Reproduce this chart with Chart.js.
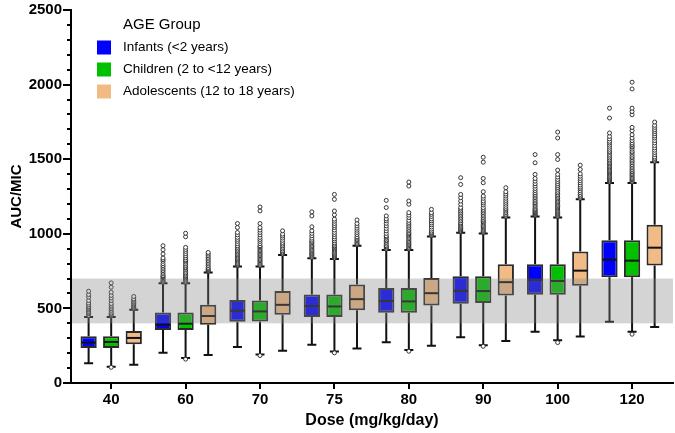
<!DOCTYPE html>
<html>
<head>
<meta charset="utf-8">
<script src="https://cdn.jsdelivr.net/npm/chart.js@4.4.1/dist/chart.umd.min.js"></script>
<style>
  body { margin: 0; background: #fff; }
  #wrap { width: 675px; height: 433px; }
</style>
</head>
<body>
<div id="wrap"><canvas id="chart"></canvas></div>
<script>
"use strict";

const doses = ["40", "60", "70", "75", "80", "90", "100", "120"];
const groupNames = ["Infants (<2 years)", "Children (2 to <12 years)", "Adolescents (12 to 18 years)"];
const groupColors = ["#0000ff", "#00c000", "#f2bb85"];
const yTicks = [0, 500, 1000, 1500, 2000, 2500];
const targetBand = [400, 700];

// box stats per dose
const infantsLow = [133, 202, 242, 256, 273, 307, 344, 411];
const infantsQ1 = [235, 356, 411, 442, 471, 531, 591, 709];
const infantsMedian = [271, 391, 484, 516, 549, 618, 691, 827];
const infantsQ3 = [313, 473, 556, 593, 636, 716, 796, 956];
const infantsHigh = [442, 669, 780, 836, 891, 1007, 1116, 1340];

const childrenLow = [109, 167, 191, 211, 222, 253, 287, 344];
const childrenQ1 = [235, 356, 413, 442, 471, 536, 591, 709];
const childrenMedian = [275, 398, 480, 513, 547, 616, 684, 820];
const childrenQ3 = [313, 473, 553, 593, 636, 716, 796, 956];
const childrenHigh = [442, 669, 780, 831, 891, 1002, 1109, 1340];

const adolescentsLow = [122, 187, 216, 231, 249, 282, 311, 376];
const adolescentsQ1 = [260, 391, 458, 487, 520, 587, 651, 787];
const adolescentsMedian = [302, 449, 524, 562, 602, 676, 753, 907];
const adolescentsQ3 = [349, 524, 616, 660, 704, 796, 882, 1060];
const adolescentsHigh = [491, 740, 858, 920, 982, 1109, 1231, 1480];

const infantsOutliers = [
  [453, 464, 472, 480, 490, 498, 507, 513, 524, 536, 553, 576, 593, 615],
  [676, 683, 690, 698, 706, 713, 720, 731, 742, 753, 764, 776, 787, 800, 816, 827, 838, 865, 893, 920],
  [786, 793, 800, 809, 817, 826, 834, 842, 851, 860, 869, 878, 888, 898, 909, 920, 934, 949, 962, 976, 993, 1009, 1042, 1069],
  [843, 850, 857, 864, 871, 878, 887, 896, 904, 913, 922, 931, 940, 949, 958, 971, 987, 1003, 1020, 1047, 1120, 1147],
  [898, 905, 913, 920, 931, 942, 952, 958, 970, 979, 987, 1003, 1020, 1036, 1053, 1070, 1087, 1100, 1120, 1176, 1224],
  [1013, 1020, 1027, 1034, 1042, 1050, 1058, 1066, 1075, 1087, 1098, 1109, 1120, 1131, 1142, 1153, 1165, 1176, 1198, 1220, 1242, 1264, 1331, 1376],
  [1122, 1129, 1136, 1142, 1149, 1156, 1163, 1170, 1180, 1190, 1200, 1209, 1220, 1231, 1242, 1253, 1264, 1276, 1290, 1304, 1320, 1336, 1353, 1371, 1398, 1476, 1531],
  [1347, 1354, 1361, 1368, 1376, 1384, 1392, 1400, 1408, 1416, 1424, 1432, 1441, 1450, 1459, 1468, 1477, 1487, 1497, 1508, 1520, 1532, 1545, 1553, 1566, 1580, 1594, 1608, 1620, 1636, 1653, 1676, 1776, 1842],
];
const childrenOutliers = [
  [105, 450, 458, 466, 475, 487, 498, 509, 521, 533, 553, 570, 587, 609, 642, 671],
  [160, 675, 682, 689, 697, 705, 713, 720, 729, 738, 749, 760, 770, 776, 787, 798, 810, 820, 827, 840, 853, 867, 882, 895, 909, 980, 1004],
  [184, 787, 795, 803, 811, 820, 828, 836, 845, 853, 862, 870, 878, 887, 896, 905, 913, 920, 934, 949, 962, 976, 993, 1009, 1025, 1042, 1069, 1153, 1180],
  [202, 838, 845, 852, 860, 867, 875, 883, 891, 899, 907, 915, 920, 930, 940, 953, 966, 980, 995, 1009, 1025, 1042, 1055, 1069, 1084, 1098, 1127, 1153, 1231, 1264],
  [213, 898, 904, 911, 920, 928, 936, 944, 949, 958, 967, 976, 985, 993, 1000, 1009, 1020, 1030, 1042, 1053, 1065, 1076, 1090, 1109, 1125, 1142, 1198, 1220, 1320, 1347],
  [246, 1009, 1016, 1023, 1031, 1039, 1047, 1056, 1064, 1073, 1081, 1090, 1098, 1109, 1120, 1131, 1142, 1153, 1164, 1176, 1193, 1207, 1220, 1238, 1253, 1282, 1342, 1371, 1480, 1513],
  [271, 1116, 1123, 1130, 1137, 1144, 1151, 1158, 1166, 1174, 1182, 1190, 1198, 1207, 1216, 1225, 1234, 1243, 1253, 1263, 1274, 1285, 1298, 1310, 1323, 1336, 1350, 1364, 1380, 1398, 1427, 1498, 1531, 1642, 1682],
  [327, 1347, 1354, 1362, 1370, 1378, 1387, 1396, 1405, 1414, 1420, 1431, 1442, 1453, 1464, 1476, 1487, 1498, 1510, 1520, 1533, 1545, 1553, 1567, 1580, 1587, 1598, 1609, 1625, 1642, 1664, 1691, 1713, 1798, 1820, 1842, 1971, 2016],
];
const adolescentsOutliers = [
  [497, 503, 509, 516, 524, 531, 540, 547, 556, 564, 580],
  [747, 753, 760, 767, 775, 787, 798, 809, 820, 831, 842, 853, 864, 875],
  [864, 871, 878, 887, 898, 909, 920, 931, 942, 956, 971, 985, 998, 1020],
  [927, 935, 944, 953, 962, 971, 980, 995, 1009, 1024, 1038, 1053, 1069, 1093],
  [989, 996, 1002, 1009, 1018, 1031, 1045, 1060, 1073, 1087, 1100, 1116, 1130, 1142, 1164],
  [1116, 1124, 1131, 1142, 1153, 1164, 1171, 1184, 1198, 1211, 1224, 1238, 1253, 1267, 1282, 1309],
  [1238, 1246, 1253, 1264, 1276, 1289, 1302, 1313, 1327, 1342, 1356, 1371, 1386, 1402, 1431, 1460],
  [1487, 1495, 1505, 1515, 1531, 1545, 1560, 1576, 1592, 1609, 1625, 1642, 1656, 1671, 1685, 1698, 1713, 1727, 1749],
];

const groupStats = [
  { low: infantsLow, q1: infantsQ1, median: infantsMedian, q3: infantsQ3, high: infantsHigh, outliers: infantsOutliers },
  { low: childrenLow, q1: childrenQ1, median: childrenMedian, q3: childrenQ3, high: childrenHigh, outliers: childrenOutliers },
  { low: adolescentsLow, q1: adolescentsQ1, median: adolescentsMedian, q3: adolescentsQ3, high: adolescentsHigh, outliers: adolescentsOutliers },
];

const FONT = "'Liberation Sans', Arial, sans-serif";

// whiskers, medians, outliers, the shaded band, minor ticks and the legend
const boxPlugin = {
  id: "boxPlot",
  beforeDatasetsDraw(chart) {
    const ctx = chart.ctx;
    const y = chart.scales.y;
    ctx.save();
    ctx.strokeStyle = "#111";
    ctx.lineWidth = 2;
    groupStats.forEach((g, d) => {
      chart.getDatasetMeta(d).data.forEach((bar, i) => {
        const x = bar.x;
        const yLow = y.getPixelForValue(g.low[i]);
        const yHigh = y.getPixelForValue(g.high[i]);
        ctx.beginPath();
        ctx.moveTo(x, y.getPixelForValue(g.q3[i]));
        ctx.lineTo(x, yHigh);
        ctx.moveTo(x - 4.5, yHigh);
        ctx.lineTo(x + 4.5, yHigh);
        ctx.moveTo(x, y.getPixelForValue(g.q1[i]));
        ctx.lineTo(x, yLow);
        ctx.moveTo(x - 4.5, yLow);
        ctx.lineTo(x + 4.5, yLow);
        ctx.stroke();
      });
    });
    ctx.restore();
  },
  afterDatasetsDraw(chart) {
    const ctx = chart.ctx;
    const y = chart.scales.y;
    const area = chart.chartArea;
    ctx.save();
    groupStats.forEach((g, d) => {
      chart.getDatasetMeta(d).data.forEach((bar, i) => {
        const x = bar.x;
        const half = bar.width / 2;
        const ym = y.getPixelForValue(g.median[i]);
        ctx.strokeStyle = "#111";
        ctx.lineWidth = 2;
        ctx.beginPath();
        ctx.moveTo(x - half + 1, ym);
        ctx.lineTo(x + half - 1, ym);
        ctx.stroke();

        ctx.lineWidth = 0.9;
        ctx.strokeStyle = "#222";
        ctx.fillStyle = "#fff";
        g.outliers[i].forEach((v) => {
          ctx.beginPath();
          ctx.arc(x, y.getPixelForValue(v), 2, 0, Math.PI * 2);
          ctx.fill();
          ctx.stroke();
        });
      });
    });

    // target range band sits over the boxes
    const yTop = y.getPixelForValue(targetBand[1]);
    const yBottom = y.getPixelForValue(targetBand[0]);
    ctx.fillStyle = "rgba(128,128,128,0.34)";
    ctx.fillRect(area.left + 1, yTop, area.right - area.left - 1, yBottom - yTop);
    ctx.restore();
  },
  afterDraw(chart) {
    const ctx = chart.ctx;
    const y = chart.scales.y;
    const left = chart.chartArea.left;
    ctx.save();
    // minor ticks every 100
    ctx.strokeStyle = "#000";
    ctx.lineWidth = 2;
    for (let v = 100; v < 2500; v += 100) {
      if (v % 500 === 0) continue;
      const py = Math.round(y.getPixelForValue(v));
      ctx.beginPath();
      ctx.moveTo(left - 4, py);
      ctx.lineTo(left, py);
      ctx.stroke();
    }

    // legend
    ctx.fillStyle = "#000";
    ctx.textBaseline = "middle";
    ctx.font = "15px " + FONT;
    ctx.fillText("AGE Group", 123, 25);
    ctx.font = "13.5px " + FONT;
    groupNames.forEach((name, i) => {
      const cy = 47.5 + i * 22;
      ctx.fillStyle = groupColors[i];
      ctx.fillRect(97, cy - 7, 14, 14);
      ctx.fillStyle = "#000";
      ctx.fillText(name, 123, cy);
    });
    ctx.restore();
  },
};

const datasets = groupStats.map((g, d) => ({
  label: groupNames[d],
  data: doses.map((dose, i) => ({ x: i, y: [g.q1[i], g.q3[i]] })),
  backgroundColor: groupColors[d],
  borderColor: "#2b2b2b",
  borderWidth: 2,
  borderSkipped: false,
  categoryPercentage: 0.91,
  barPercentage: 0.72,
}));

new Chart(document.getElementById("chart"), {
  type: "bar",
  data: { datasets: datasets },
  options: {
    responsive: true,
    maintainAspectRatio: false,
    animation: false,
    layout: { padding: { top: 5, right: 2, left: 0, bottom: 0 } },
    plugins: {
      legend: { display: false },
      tooltip: { enabled: false },
    },
    scales: {
      x: {
        type: "linear",
        min: -0.54,
        max: 7.55,
        offset: false,
        afterFit: (scale) => { scale.height = 50; },
        afterBuildTicks: (scale) => {
          scale.ticks = doses.map((d, i) => ({ value: i }));
        },
        border: { color: "#000", width: 2 },
        grid: { offset: false, drawOnChartArea: false, color: "#000", lineWidth: 2, tickLength: 6 },
        ticks: {
          color: "#000",
          padding: 2,
          maxRotation: 0,
          font: { family: FONT, size: 15, weight: "bold" },
          callback: (v) => doses[v],
        },
        title: {
          display: true,
          text: "Dose (mg/kg/day)",
          color: "#000",
          font: { family: FONT, size: 16, weight: "bold" },
          padding: { top: 0, bottom: 3 },
        },
      },
      y: {
        min: 0,
        max: 2500,
        afterFit: (scale) => { scale.width = 71; },
        afterBuildTicks: (scale) => {
          scale.ticks = yTicks.map((v) => ({ value: v }));
        },
        border: { color: "#000", width: 2 },
        grid: { drawOnChartArea: false, color: "#000", lineWidth: 2, tickLength: 8 },
        ticks: {
          color: "#000",
          padding: 1,
          font: { family: FONT, size: 15, weight: "bold" },
          callback: (v) => String(v),
        },
        title: {
          display: true,
          text: "AUC/MIC",
          color: "#000",
          font: { family: FONT, size: 15, weight: "bold" },
          padding: { top: 8, bottom: 0 },
        },
      },
    },
  },
  plugins: [boxPlugin],
});
</script>
</body>
</html>
